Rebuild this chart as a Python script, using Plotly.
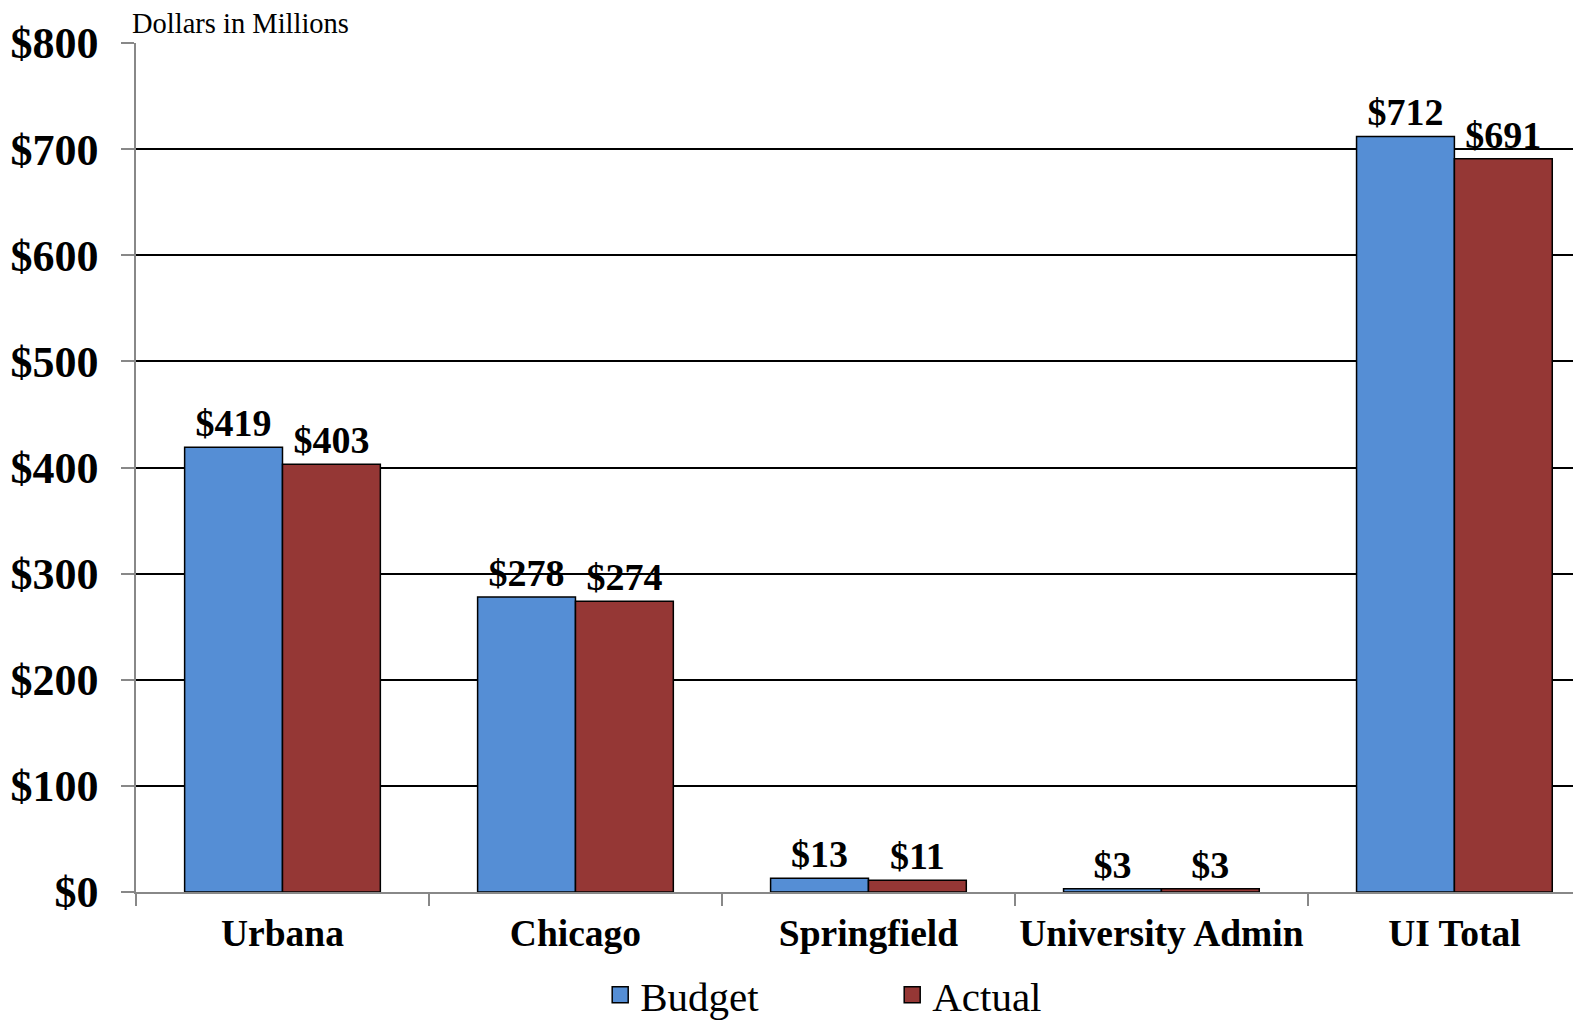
import plotly.graph_objects as go

categories = ["Urbana", "Chicago", "Springfield", "University Admin", "UI Total"]
budget = [419, 278, 13, 3, 712]
actual = [403, 274, 11, 3, 691]
budget_labels = ["$419", "$278", "$13", "$3", "$712"]
actual_labels = ["$403", "$274", "$11", "$3", "$691"]
series_names = ["Budget", "Actual"]
series_colors = ["#558ED5", "#953735"]

FONT = "Liberation Serif"

fig = go.Figure()
for name, vals, labels, color in zip(series_names, [budget, actual],
                                      [budget_labels, actual_labels], series_colors):
    fig.add_trace(go.Bar(
        name=name, x=categories, y=vals, text=labels,
        textposition="outside", cliponaxis=False, showlegend=False,
        textfont=dict(family=FONT, size=38, color="black", weight="bold"),
        marker=dict(color=color, line=dict(color="black", width=1.5)),
    ))
# legend entries with square swatches
for name, color in zip(series_names, series_colors):
    fig.add_trace(go.Scatter(
        name=name, x=[None], y=[None], mode="markers",
        marker=dict(symbol="square", size=21, color=color,
                    line=dict(color="black", width=1.5)),
    ))

fig.update_layout(
    width=1580, height=1014,
    margin=dict(l=128, r=0, t=35, b=130, autoexpand=False),
    paper_bgcolor="white", plot_bgcolor="white",
    barmode="group", bargap=0.332, bargroupgap=0,
    font=dict(family=FONT, color="black"),
    showlegend=True,
    legend=dict(orientation="h", x=0.5208, xanchor="center",
                y=-0.1215, yanchor="middle",
                font=dict(family=FONT, size=41, color="black"),
                entrywidth=247, itemsizing="trace", bgcolor="rgba(0,0,0,0)"),
)
fig.update_xaxes(
    type="category", range=[-0.5, 4.456], automargin=False, tickangle=0,
    showline=True, linecolor="#888888", linewidth=2,
    ticks="outside", tickson="boundaries", ticklen=12, tickcolor="#888888", tickwidth=1.5,
    tickfont=dict(family=FONT, size=37.5, color="black", weight="bold"),
    ticklabelstandoff=7,
    showgrid=False,
)
fig.update_yaxes(
    range=[0, 800], dtick=100, tickprefix="$", automargin=False,
    showline=True, linecolor="#888888", linewidth=1.5,
    ticks="outside", ticklen=13, tickcolor="#888888", tickwidth=1.5,
    tickfont=dict(family=FONT, size=44, color="black", weight="bold"),
    ticklabelstandoff=14,
    showgrid=True, gridcolor="black", gridwidth=1.8,
    zeroline=False,
)
fig.add_annotation(
    text="Dollars in Millions", xref="paper", yref="paper",
    x=-0.004, y=1.0, xanchor="left", yanchor="bottom", yshift=2,
    showarrow=False, font=dict(family=FONT, size=28.5, color="black"),
)

fig.write_html("out.html")
